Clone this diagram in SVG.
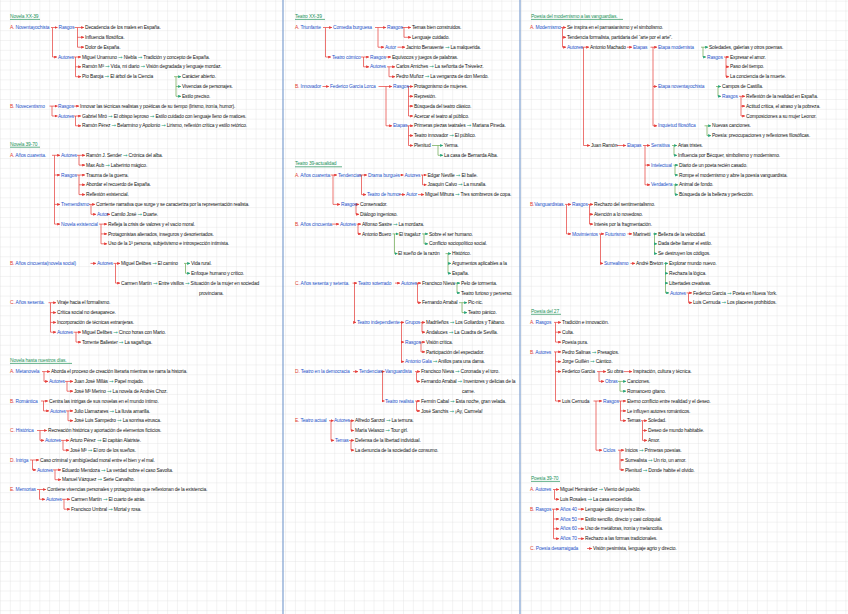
<svg xmlns="http://www.w3.org/2000/svg" width="848" height="614" viewBox="0 0 848 614">
<defs>
<pattern id="gp" x="0" y="0.7" width="9.83" height="9.83" patternUnits="userSpaceOnUse"><path d="M0 0H9.83M0 0V9.83" stroke="#e3e3e3" stroke-width="0.8" fill="none"/></pattern>
<marker id="ar" markerUnits="userSpaceOnUse" markerWidth="3" markerHeight="3" refX="2.8" refY="1.5" orient="auto"><path d="M0,0L3,1.5L0,3z" fill="#e53935"/></marker>
<marker id="ag" markerUnits="userSpaceOnUse" markerWidth="3" markerHeight="3" refX="2.8" refY="1.5" orient="auto"><path d="M0,0L3,1.5L0,3z" fill="#1fa27a"/></marker>
<style>
text{font-family:"Liberation Sans",Arial,sans-serif;font-size:4.9px;fill:#141414;letter-spacing:-.15px}
.b{fill:#2553c9}.r{fill:#e23b2e}.h{fill:#23925a}.g{fill:#1fa27a;font-family:"DejaVu Sans",sans-serif;font-size:5.4px}
.cr{stroke:#e53935;stroke-width:.7;fill:none}
.cg{stroke:#6aa84f;stroke-width:.7;fill:none}
.a{marker-end:url(#ar)}.ag{marker-end:url(#ag)}
.ul{stroke:#23925a;stroke-width:.7}
.sep{stroke:#7d9fd0;stroke-width:1.2}
</style>
</defs>
<rect width="848" height="614" fill="#fff"/>
<rect width="848" height="614" fill="url(#gp)"/>
<line class="sep" x1="283" y1="0" x2="283" y2="614"/>
<line class="sep" x1="520" y1="0" x2="520" y2="614"/>

<g id="connectors">
<path class="cr" d="M51 27.5H52.5V57"/><path class="cr a" d="M52.5 27.5H57.5"/><path class="cr a" d="M52.5 57H57"/>
<path class="cr" d="M74.5 27.5H77.5V47.2"/><path class="cr a" d="M77.5 27.5H84"/><path class="cr a" d="M77.5 37.3H84"/><path class="cr a" d="M77.5 47.2H84"/>
<path class="cr" d="M73.5 57H75.5V76.7"/><path class="cr a" d="M75.5 57H81"/><path class="cr a" d="M75.5 66.8H81"/><path class="cr a" d="M75.5 76.7H81"/>
<path class="cg" d="M174 76.7H176V96.3"/><path class="cg ag" d="M176 76.7H181"/><path class="cg ag" d="M176 86.5H181"/><path class="cg ag" d="M176 96.3H181"/>
<path class="cr" d="M49.5 106.1H52V116"/><path class="cr a" d="M52 106.1H57.5"/><path class="cr a" d="M52 116H57.5"/>
<path class="cr a" d="M73.5 106.1H79"/>
<path class="cr" d="M73.5 116H75.5V125.8"/><path class="cr a" d="M75.5 116H81"/><path class="cr a" d="M75.5 125.8H81"/>
<path class="cr" d="M52 155.3H54.5V224.1"/><path class="cr a" d="M54.5 155.3H60"/><path class="cr a" d="M54.5 175H60"/><path class="cr a" d="M54.5 204.4H60"/><path class="cr a" d="M54.5 224.1H60"/>
<path class="cr" d="M77 155.3H79V165.1"/><path class="cr a" d="M79 155.3H85"/><path class="cr a" d="M79 165.1H85"/>
<path class="cr" d="M76.5 175H79V194.6"/><path class="cr a" d="M79 175H85"/><path class="cr a" d="M79 184.8H85"/><path class="cr a" d="M79 194.6H85"/>
<path class="cr" d="M89 204.4H91V214.3"/><path class="cr a" d="M91 204.4H95"/><path class="cr a" d="M91 214.3H96"/>
<path class="cr a" d="M107.5 214.3H110"/>
<path class="cr" d="M99 224.1H101V243.8"/><path class="cr a" d="M101 224.1H107"/><path class="cr a" d="M101 233.9H107"/><path class="cr a" d="M101 243.8H107"/>
<path class="cr a" d="M90.5 263.4H96"/>
<path class="cr" d="M113.5 263.4H115.5V283.1"/><path class="cr a" d="M115.5 263.4H120"/><path class="cr a" d="M115.5 283.1H120"/>
<path class="cg" d="M184 263.4H185.5V273.3"/><path class="cg ag" d="M185.5 263.4H190"/><path class="cg ag" d="M185.5 273.3H190"/>
<path class="cr" d="M48.5 302.7H50.5V332.2"/><path class="cr a" d="M50.5 302.7H56"/><path class="cr a" d="M50.5 312.6H56"/><path class="cr a" d="M50.5 322.4H56"/><path class="cr a" d="M50.5 332.2H56"/>
<path class="cr" d="M73.5 332.2H76V342.1"/><path class="cr a" d="M76 332.2H81"/><path class="cr a" d="M76 342.1H81"/>
<path class="cr" d="M42 371.6H44V381.4"/><path class="cr a" d="M44 371.6H50"/><path class="cr a" d="M44 381.4H48"/>
<path class="cr" d="M65 381.4H67V391.2"/><path class="cr a" d="M67 381.4H73"/><path class="cr a" d="M67 391.2H73"/>
<path class="cr" d="M41 401H43.5V410.9"/><path class="cr a" d="M43.5 401H48"/><path class="cr a" d="M43.5 410.9H49"/>
<path class="cr" d="M66 410.9H68V420.7"/><path class="cr a" d="M68 410.9H73"/><path class="cr a" d="M68 420.7H73"/>
<path class="cr" d="M37 430.5H40V440.4"/><path class="cr a" d="M40 430.5H47"/><path class="cr a" d="M40 440.4H44"/>
<path class="cr" d="M61 440.4H63V450.2"/><path class="cr a" d="M63 440.4H69"/><path class="cr a" d="M63 450.2H69"/>
<path class="cr" d="M30 460H32.5V469.9"/><path class="cr a" d="M32.5 460H39"/><path class="cr a" d="M32.5 469.9H36"/>
<path class="cr" d="M53 469.9H55V479.7"/><path class="cr a" d="M55 469.9H61"/><path class="cr a" d="M55 479.7H61"/>
<path class="cr" d="M37 489.5H39.5V499.3"/><path class="cr a" d="M39.5 489.5H46"/><path class="cr a" d="M39.5 499.3H45"/>
<path class="cr" d="M62 499.3H64V509.2"/><path class="cr a" d="M64 499.3H70"/><path class="cr a" d="M64 509.2H70"/>
<path class="cr" d="M323 27.5H325.5V57"/><path class="cr a" d="M325.5 27.5H332"/><path class="cr a" d="M325.5 57H331"/>
<path class="cr" d="M375 27.5H378V47.2"/><path class="cr a" d="M378 27.5H386"/><path class="cr a" d="M378 47.2H384"/>
<path class="cr" d="M402 27.5H404V37.3"/><path class="cr a" d="M404 27.5H411"/><path class="cr a" d="M404 37.3H411"/>
<path class="cr a" d="M397.5 47.2H405"/>
<path class="cr" d="M361 57H363.5V66.8"/><path class="cr a" d="M363.5 57H369"/><path class="cr a" d="M363.5 66.8H369"/>
<path class="cr a" d="M385.5 57H391"/>
<path class="cr" d="M387 66.8H389V76.7"/><path class="cr a" d="M389 66.8H395"/><path class="cr a" d="M389 76.7H395"/>
<path class="cr a" d="M322.5 86.5H329"/>
<path class="cr" d="M378.5 86.5H386V125.8"/><path class="cr a" d="M386 86.5H392"/><path class="cr a" d="M386 125.8H392"/>
<path class="cr" d="M407 86.5H408.5V116"/><path class="cr a" d="M408.5 86.5H413"/><path class="cr a" d="M408.5 96.3H413"/><path class="cr a" d="M408.5 106.1H413"/><path class="cr a" d="M408.5 116H413"/>
<path class="cr" d="M407 125.8H408.5V145.5"/><path class="cr a" d="M408.5 125.8H413"/><path class="cr a" d="M408.5 135.6H413"/><path class="cr a" d="M408.5 145.5H413"/>
<path class="cg" d="M432 145.5H438V155.3"/><path class="cg ag" d="M438 145.5H443"/><path class="cg ag" d="M438 155.3H443"/>
<path class="cr" d="M330.5 175H333V204.4"/><path class="cr a" d="M333 175H337"/><path class="cr a" d="M333 204.4H340"/>
<path class="cr" d="M359 175H361.5V194.6"/><path class="cr a" d="M361.5 175H367"/><path class="cr a" d="M361.5 194.6H366"/>
<path class="cr a" d="M400 175H403.5"/>
<path class="cr" d="M421 175H422.5V184.8"/><path class="cr a" d="M422.5 175H426.5"/><path class="cr a" d="M422.5 184.8H426.5"/>
<path class="cr a" d="M399 194.6H405"/>
<path class="cr a" d="M418 194.6H424"/>
<path class="cr" d="M354 204.4H356V214.3"/><path class="cr a" d="M356 204.4H359"/><path class="cr a" d="M356 214.3H359"/>
<path class="cr a" d="M331.5 224.1H339"/>
<path class="cr" d="M356.5 224.1H358V233.9"/><path class="cr a" d="M358 224.1H361"/><path class="cr a" d="M358 233.9H361"/>
<path class="cg" d="M392.5 233.9H394.5V253.6"/><path class="cg ag" d="M394.5 233.9H398.5"/><path class="cg ag" d="M394.5 253.6H397.5"/>
<path class="cg" d="M422 233.9H424V243.8"/><path class="cg ag" d="M424 233.9H428"/><path class="cg ag" d="M424 243.8H428"/>
<path class="cg" d="M445.5 253.6H448V273.3"/><path class="cg ag" d="M448 253.6H451"/><path class="cg ag" d="M448 263.4H451"/><path class="cg ag" d="M448 273.3H451"/>
<path class="cr" d="M352.5 283.1H354.5V322.4"/><path class="cr a" d="M354.5 283.1H357"/><path class="cr a" d="M354.5 322.4H356"/>
<path class="cr a" d="M395 283.1H400"/>
<path class="cr" d="M416 283.1H417.5V302.7"/><path class="cr a" d="M417.5 283.1H421"/><path class="cr a" d="M417.5 302.7H421"/>
<path class="cg" d="M455 283.1H457V292.9"/><path class="cg ag" d="M457 283.1H460"/><path class="cg ag" d="M457 292.9H460"/>
<path class="cg" d="M459 302.7H462V312.6"/><path class="cg ag" d="M462 302.7H467"/><path class="cg ag" d="M462 312.6H467"/>
<path class="cr" d="M400 322.4H401.5V361.7"/><path class="cr a" d="M401.5 322.4H404"/><path class="cr a" d="M401.5 342.1H404"/><path class="cr a" d="M401.5 361.7H404"/>
<path class="cr" d="M420.5 322.4H422V332.2"/><path class="cr a" d="M422 322.4H425"/><path class="cr a" d="M422 332.2H425"/>
<path class="cr" d="M419.5 342.1H421V351.9"/><path class="cr a" d="M421 342.1H425"/><path class="cr a" d="M421 351.9H425"/>
<path class="cr a" d="M353 371.6H358"/>
<path class="cr" d="M381 371.6H382.5V401"/><path class="cr a" d="M382.5 371.6H384.5"/><path class="cr a" d="M382.5 401H384.5"/>
<path class="cr" d="M415 371.6H416.5V381.4"/><path class="cr a" d="M416.5 371.6H420"/><path class="cr a" d="M416.5 381.4H420"/>
<path class="cr" d="M415 401H416.5V410.9"/><path class="cr a" d="M416.5 401H420"/><path class="cr a" d="M416.5 410.9H420"/>
<path class="cr" d="M329 420.7H331V440.4"/><path class="cr a" d="M331 420.7H333.5"/><path class="cr a" d="M331 440.4H334"/>
<path class="cr" d="M349.5 420.7H351V430.5"/><path class="cr a" d="M351 420.7H354"/><path class="cr a" d="M351 430.5H354"/>
<path class="cr" d="M349 440.4H351V450.2"/><path class="cr a" d="M351 440.4H354"/><path class="cr a" d="M351 450.2H354"/>
<path class="cr" d="M561 27.5H562.5V47.2"/><path class="cr a" d="M562.5 27.5H566"/><path class="cr a" d="M562.5 37.3H566"/><path class="cr a" d="M562.5 47.2H566"/>
<path class="cr" d="M581.5 47.2H583.5V145.5"/><path class="cr a" d="M583.5 47.2H589"/><path class="cr a" d="M583.5 145.5H590"/>
<path class="cr a" d="M627 47.2H632"/>
<path class="cr" d="M650.5 47.2H653V125.8"/><path class="cr a" d="M653 47.2H657"/><path class="cr a" d="M653 86.5H657"/><path class="cr a" d="M653 125.8H657"/>
<path class="cg" d="M701 47.2H703V57"/><path class="cg ag" d="M703 47.2H708"/><path class="cg ag" d="M703 57H706"/>
<path class="cr" d="M724 57H726V76.7"/><path class="cr a" d="M726 57H729"/><path class="cr a" d="M726 66.8H729"/><path class="cr a" d="M726 76.7H729"/>
<path class="cg" d="M716 86.5H718V96.3"/><path class="cg ag" d="M718 86.5H721"/><path class="cg ag" d="M718 96.3H721"/>
<path class="cr" d="M739 96.3H741V116"/><path class="cr a" d="M741 96.3H745"/><path class="cr a" d="M741 106.1H745"/><path class="cr a" d="M741 116H745"/>
<path class="cg" d="M704.5 125.8H707V135.6"/><path class="cg ag" d="M707 125.8H711"/><path class="cg ag" d="M707 135.6H711"/>
<path class="cr a" d="M616.5 145.5H626"/>
<path class="cr" d="M643 145.5H645V184.8"/><path class="cr a" d="M645 145.5H650"/><path class="cr a" d="M645 165.1H650"/><path class="cr a" d="M645 184.8H650"/>
<path class="cg" d="M672 145.5H674V155.3"/><path class="cg ag" d="M674 145.5H677"/><path class="cg ag" d="M674 155.3H677"/>
<path class="cg" d="M673.5 165.1H675V175"/><path class="cg ag" d="M675 165.1H678"/><path class="cg ag" d="M675 175H678"/>
<path class="cg" d="M673.5 184.8H675V194.6"/><path class="cg ag" d="M675 184.8H678"/><path class="cg ag" d="M675 194.6H678"/>
<path class="cr" d="M565 204.4H566.5V233.9"/><path class="cr a" d="M566.5 204.4H571"/><path class="cr a" d="M566.5 233.9H571"/>
<path class="cr" d="M588 204.4H589.5V224.1"/><path class="cr a" d="M589.5 204.4H593"/><path class="cr a" d="M589.5 214.3H593"/><path class="cr a" d="M589.5 224.1H593"/>
<path class="cr" d="M599 233.9H600.5V263.4"/><path class="cr a" d="M600.5 233.9H604"/><path class="cr a" d="M600.5 263.4H603"/>
<path class="cr a" d="M627.5 233.9H632"/>
<path class="cg" d="M653 233.9H654.5V253.6"/><path class="cg ag" d="M654.5 233.9H657"/><path class="cg ag" d="M654.5 243.8H657"/><path class="cg ag" d="M654.5 253.6H657"/>
<path class="cr a" d="M630.5 263.4H635"/>
<path class="cg" d="M664 263.4H665.5V292.9"/><path class="cg ag" d="M665.5 263.4H668"/><path class="cg ag" d="M665.5 273.3H668"/><path class="cg ag" d="M665.5 283.1H668"/><path class="cg ag" d="M665.5 292.9H669"/>
<path class="cr" d="M686.5 292.9H688.5V302.7"/><path class="cr a" d="M688.5 292.9H692"/><path class="cr a" d="M688.5 302.7H692"/>
<path class="cr" d="M554 322.4H555.5V342.1"/><path class="cr a" d="M555.5 322.4H561"/><path class="cr a" d="M555.5 332.2H561"/><path class="cr a" d="M555.5 342.1H561"/>
<path class="cr" d="M554 351.9H555.5V401"/><path class="cr a" d="M555.5 351.9H561"/><path class="cr a" d="M555.5 361.7H561"/><path class="cr a" d="M555.5 371.6H561"/><path class="cr a" d="M555.5 401H561"/>
<path class="cr" d="M597 371.6H599V381.4"/><path class="cr a" d="M599 371.6H606"/><path class="cr a" d="M599 381.4H604"/>
<path class="cr a" d="M623.5 371.6H632"/>
<path class="cg" d="M618 381.4H620V391.2"/><path class="cg ag" d="M620 381.4H626"/><path class="cg ag" d="M620 391.2H626"/>
<path class="cr" d="M593.5 401H596V450.2"/><path class="cr a" d="M596 401H602"/><path class="cr a" d="M596 450.2H602"/>
<path class="cr" d="M618.5 401H620.5V420.7"/><path class="cr a" d="M620.5 401H626"/><path class="cr a" d="M620.5 410.9H626"/><path class="cr a" d="M620.5 420.7H626"/>
<path class="cr" d="M641 420.7H642.5V440.4"/><path class="cr a" d="M642.5 420.7H647"/><path class="cr a" d="M642.5 430.5H647"/><path class="cr a" d="M642.5 440.4H647"/>
<path class="cr" d="M618 450.2H620V469.9"/><path class="cr a" d="M620 450.2H624"/><path class="cr a" d="M620 460H624"/><path class="cr a" d="M620 469.9H624"/>
<path class="cr" d="M553 489.5H554.5V499.3"/><path class="cr a" d="M554.5 489.5H559"/><path class="cr a" d="M554.5 499.3H559"/>
<path class="cr" d="M552 509.2H553.5V538.7"/><path class="cr a" d="M553.5 509.2H559"/><path class="cr a" d="M553.5 519H559"/><path class="cr a" d="M553.5 528.8H559"/><path class="cr a" d="M553.5 538.7H559"/>
<path class="cr a" d="M578 509.2H584"/><path class="cr a" d="M578 519H584"/><path class="cr a" d="M578 528.8H584"/><path class="cr a" d="M578 538.7H584"/>
<path class="cr a" d="M587 548.5H592"/>
</g>

<g id="t-novela-xx-39"><text class="h" x="10" y="17.8">Novela XX-39</text><line class="ul" x1="10" y1="19.4" x2="40" y2="19.4"/></g>
<g id="a1"><text x="10" y="29.1"><tspan class="r">A. </tspan><tspan class="b">Noventayochista</tspan></text></g>
<g id="a2"><text class="b" x="58.5" y="29.1">Rasgos</text></g>
<g id="a3"><text x="85" y="29.1">Decadencia de los males en España.</text></g>
<g id="a4"><text x="85" y="38.9">Influencia filosófica.</text></g>
<g id="a5"><text x="85" y="48.8">Dolor de España.</text></g>
<g id="a6"><text class="b" x="58" y="58.6">Autores</text></g>
<g id="a7"><text x="82" y="58.6">Miguel Unamuno <tspan class="g">→</tspan> Niebla <tspan class="g">→</tspan> Tradición y concepto de España.</text></g>
<g id="a8"><text x="82" y="68.4">Ramón Mª <tspan class="g">→</tspan> Vida, mi diario <tspan class="g">→</tspan> Visión degradada y lenguaje mordaz.</text></g>
<g id="a9"><text x="82" y="78.3">Pío Baroja <tspan class="g">→</tspan> El árbol de la Ciencia</text></g>
<g id="a10"><text x="182" y="78.3">Carácter abierto.</text></g>
<g id="a11"><text x="182" y="88.1">Vivencias de personajes.</text></g>
<g id="a12"><text x="182" y="97.9">Estilo preciso.</text></g>
<g id="a13"><text x="10" y="107.7"><tspan class="r">B. </tspan><tspan class="b">Novecentismo</tspan></text></g>
<g id="a14"><text class="b" x="58" y="107.7">Rasgos</text></g>
<g id="a15"><text x="80" y="107.7">Innovar las técnicas realistas y poéticas de su tiempo (lirismo, ironía, humor).</text></g>
<g id="a16"><text class="b" x="58" y="117.6">Autores</text></g>
<g id="a17"><text x="82" y="117.6">Gabriel Miró <tspan class="g">→</tspan> El obispo leproso <tspan class="g">→</tspan> Estilo cuidado con lenguaje lleno de matices.</text></g>
<g id="a18"><text x="82" y="127.4">Ramón Pérez <tspan class="g">→</tspan> Belarmino y Apolonio <tspan class="g">→</tspan> Lirismo, reflexión crítica y estilo retórico.</text></g>

<g id="t-novela-39-70"><text class="h" x="10" y="145.6">Novela 39-70</text><line class="ul" x1="10" y1="147.2" x2="40" y2="147.2"/></g>
<g id="a19"><text x="10" y="156.9"><tspan class="r">A. </tspan><tspan class="b">Años cuarenta.</tspan></text></g>
<g id="a20"><text class="b" x="61" y="156.9">Autores</text></g>
<g id="a21"><text x="86" y="156.9">Ramón J. Sender <tspan class="g">→</tspan> Crónica del alba.</text></g>
<g id="a22"><text x="86" y="166.7">Max Aub <tspan class="g">→</tspan> Laberinto mágico.</text></g>
<g id="a23"><text class="b" x="61" y="176.6">Rasgos</text></g>
<g id="a24"><text x="86" y="176.6">Trauma de la guerra.</text></g>
<g id="a25"><text x="86" y="186.4">Abordar el recuerdo de España.</text></g>
<g id="a26"><text x="86" y="196.2">Reflexión existencial.</text></g>
<g id="a27"><text class="b" x="61" y="206">Tremendismo</text></g>
<g id="a28"><text x="96" y="206">Corriente narrativa que surge y se caracteriza por la representación realista.</text></g>
<g id="a29"><text class="b" x="97" y="215.9">Autor</text></g>
<g id="a30"><text x="111" y="215.9">Camilo José <tspan class="g">→</tspan> Duarte.</text></g>
<g id="a31"><text class="b" x="61" y="225.7">Novela existencial</text></g>
<g id="a32"><text x="108" y="225.7">Refleja la crisis de valores y el vacío moral.</text></g>
<g id="a33"><text x="108" y="235.5">Protagonistas alienados, inseguros y desorientados.</text></g>
<g id="a34"><text x="108" y="245.4">Uso de la 1ª persona, subjetivismo e introspección intimista.</text></g>
<g id="a35"><text x="10" y="265"><tspan class="r">B. </tspan><tspan class="b">Años cincuenta(novela social)</tspan></text></g>
<g id="a36"><text class="b" x="97" y="265">Autores</text></g>
<g id="a37"><text x="121" y="265">Miguel Delibes <tspan class="g">→</tspan> El camino</text></g>
<g id="a38"><text x="191" y="265">Vida rural.</text></g>
<g id="a39"><text x="191" y="274.9">Enfoque humano y crítico.</text></g>
<g id="a40"><text x="121" y="284.7">Carmen Martín <tspan class="g">→</tspan> Entre visillos <tspan class="g">→</tspan> Situación de la mujer en sociedad</text></g>
<g id="a41"><text x="199" y="294.5">provinciana.</text></g>
<g id="a42"><text x="10" y="304.3"><tspan class="r">C. </tspan><tspan class="b">Años sesenta.</tspan></text></g>
<g id="a43"><text x="57" y="304.3">Viraje hacia el formalismo.</text></g>
<g id="a44"><text x="57" y="314.2">Crítica social no desaparece.</text></g>
<g id="a45"><text x="57" y="324">Incorporación de técnicas extranjeras.</text></g>
<g id="a46"><text class="b" x="57" y="333.8">Autores</text></g>
<g id="a47"><text x="82" y="333.8">Miguel Delibes <tspan class="g">→</tspan> Cinco horas con Mario.</text></g>
<g id="a48"><text x="82" y="343.7">Torrente Ballester <tspan class="g">→</tspan> La saga/fuga.</text></g>

<g id="t-novela-hasta"><text class="h" x="10" y="361.8">Novela hasta nuestros días.</text><line class="ul" x1="10" y1="363.4" x2="72" y2="363.4"/></g>
<g id="a49"><text x="10" y="373.2"><tspan class="r">A. </tspan><tspan class="b">Metanovela</tspan></text></g>
<g id="a50"><text x="51" y="373.2">Aborda el proceso de creación literaria mientras se narra la historia.</text></g>
<g id="a51"><text class="b" x="49" y="383">Autores</text></g>
<g id="a52"><text x="74" y="383">Juan José Millás <tspan class="g">→</tspan> Papel mojado.</text></g>
<g id="a53"><text x="74" y="392.8">José Mª Merino <tspan class="g">→</tspan> La novela de Andrés Choz.</text></g>
<g id="a54"><text x="10" y="402.6"><tspan class="r">B. </tspan><tspan class="b">Romántica</tspan></text></g>
<g id="a55"><text x="49" y="402.6">Centra las intrigas de sus novelas en el mundo íntimo.</text></g>
<g id="a56"><text class="b" x="50" y="412.5">Autores</text></g>
<g id="a57"><text x="74" y="412.5">Julio Llamazares <tspan class="g">→</tspan> La lluvia amarilla.</text></g>
<g id="a58"><text x="74" y="422.3">José Luis Sampedro <tspan class="g">→</tspan> La sonrisa etrusca.</text></g>
<g id="a59"><text x="10" y="432.1"><tspan class="r">C. </tspan><tspan class="b">Histórica</tspan></text></g>
<g id="a60"><text x="48" y="432.1">Recreación histórica y aportación de elementos ficticios.</text></g>
<g id="a61"><text class="b" x="45" y="442">Autores</text></g>
<g id="a62"><text x="70" y="442">Arturo Pérez <tspan class="g">→</tspan> El capitán Alatriste.</text></g>
<g id="a63"><text x="70" y="451.8">José Mª <tspan class="g">→</tspan> El oro de los sueños.</text></g>
<g id="a64"><text x="10" y="461.6"><tspan class="r">D. </tspan><tspan class="b">Intriga</tspan></text></g>
<g id="a65"><text x="40" y="461.6">Caso criminal y ambigüedad moral entre el bien y el mal.</text></g>
<g id="a66"><text class="b" x="37" y="471.5">Autores</text></g>
<g id="a67"><text x="62" y="471.5">Eduardo Mendoza <tspan class="g">→</tspan> La verdad sobre el caso Savolta.</text></g>
<g id="a68"><text x="62" y="481.3">Manuel Vázquez <tspan class="g">→</tspan> Serie Carvalho.</text></g>
<g id="a69"><text x="10" y="491.1"><tspan class="r">E. </tspan><tspan class="b">Memorias</tspan></text></g>
<g id="a70"><text x="47" y="491.1">Contiene vivencias personales y protagonistas que reflexionan de la existencia.</text></g>
<g id="a71"><text class="b" x="46" y="500.9">Autores</text></g>
<g id="a72"><text x="71" y="500.9">Carmen Martín <tspan class="g">→</tspan> El cuarto de atrás.</text></g>
<g id="a73"><text x="71" y="510.8">Francisco Umbral <tspan class="g">→</tspan> Mortal y rosa.</text></g>

<g id="t-teatro-xx-39"><text class="h" x="295" y="17.8">Teatro XX-39</text><line class="ul" x1="295" y1="19.4" x2="325" y2="19.4"/></g>
<g id="b1"><text x="295" y="29.1"><tspan class="r">A. </tspan><tspan class="b">Triunfante</tspan></text></g>
<g id="b2"><text class="b" x="333" y="29.1">Comedia burguesa</text></g>
<g id="b3"><text class="b" x="387" y="29.1">Rasgos</text></g>
<g id="b4"><text x="412" y="29.1">Temas bien construidos.</text></g>
<g id="b5"><text x="412" y="38.9">Lenguaje cuidado.</text></g>
<g id="b6"><text class="b" x="385" y="48.8">Autor</text></g>
<g id="b7"><text x="406" y="48.8">Jacinto Benavente <tspan class="g">→</tspan> La malquerida.</text></g>
<g id="b8"><text class="b" x="332" y="58.6">Teatro cómico</text></g>
<g id="b9"><text class="b" x="370" y="58.6">Rasgos</text></g>
<g id="b10"><text x="392" y="58.6">Equívocos y juegos de palabras.</text></g>
<g id="b11"><text class="b" x="370" y="68.4">Autores</text></g>
<g id="b12"><text x="396" y="68.4">Carlos Arniches <tspan class="g">→</tspan> La señorita de Trévelez.</text></g>
<g id="b13"><text x="396" y="78.3">Pedro Muñoz <tspan class="g">→</tspan> La venganza de don Mendo.</text></g>
<g id="b14"><text x="295" y="88.1"><tspan class="r">B. </tspan><tspan class="b">Innovador</tspan></text></g>
<g id="b15"><text class="b" x="330" y="88.1">Federico García Lorca</text></g>
<g id="b16"><text class="b" x="393" y="88.1">Rasgos</text></g>
<g id="b17"><text x="414" y="88.1">Protagonismo de mujeres.</text></g>
<g id="b18"><text x="414" y="97.9">Represión.</text></g>
<g id="b19"><text x="414" y="107.7">Búsqueda del teatro clásico.</text></g>
<g id="b20"><text x="414" y="117.6">Acercar el teatro al público.</text></g>
<g id="b21"><text class="b" x="393" y="127.4">Etapas</text></g>
<g id="b22"><text x="414" y="127.4">Primeras piezas teatrales <tspan class="g">→</tspan> Mariana Pineda.</text></g>
<g id="b23"><text x="414" y="137.2">Teatro innovador <tspan class="g">→</tspan> El público.</text></g>
<g id="b24"><text x="414" y="147.1">Plenitud</text></g>
<g id="b25"><text x="444" y="147.1">Yerma.</text></g>
<g id="b26"><text x="444" y="156.9">La casa de Bernarda Alba.</text></g>

<g id="t-teatro-39"><text class="h" x="295" y="165.2">Teatro 39-actualidad</text><line class="ul" x1="295" y1="166.8" x2="342" y2="166.8"/></g>
<g id="b27"><text x="295" y="176.6"><tspan class="r">A. </tspan><tspan class="b">Años cuarenta.</tspan></text></g>
<g id="b28"><text class="b" x="338" y="176.6">Tendencias</text></g>
<g id="b29"><text class="b" x="368" y="176.6">Drama burgués</text></g>
<g id="b30"><text class="b" x="404.5" y="176.6">Autores</text></g>
<g id="b31"><text x="427.5" y="176.6">Edgar Neville <tspan class="g">→</tspan> El baile.</text></g>
<g id="b32"><text x="427.5" y="186.4">Joaquín Calvo <tspan class="g">→</tspan> La muralla.</text></g>
<g id="b33"><text class="b" x="367" y="196.2">Teatro de humor</text></g>
<g id="b34"><text class="b" x="406" y="196.2">Autor</text></g>
<g id="b35"><text x="425" y="196.2">Miguel Mihura <tspan class="g">→</tspan> Tres sombreros de copa.</text></g>
<g id="b36"><text class="b" x="341" y="206">Rasgos</text></g>
<g id="b37"><text x="360" y="206">Conservador.</text></g>
<g id="b38"><text x="360" y="215.9">Diálogo ingenioso.</text></g>
<g id="b39"><text x="295" y="225.7"><tspan class="r">B. </tspan><tspan class="b">Años cincuenta.</tspan></text></g>
<g id="b40"><text class="b" x="340" y="225.7">Autores</text></g>
<g id="b41"><text x="362" y="225.7">Alfonso Sastre <tspan class="g">→</tspan> La mordaza.</text></g>
<g id="b42"><text x="362" y="235.5">Antonio Buero</text></g>
<g id="b43"><text x="399" y="235.5">El tragaluz</text></g>
<g id="b44"><text x="429" y="235.5">Sobre el ser humano.</text></g>
<g id="b45"><text x="429" y="245.4">Conflicto sociopolítico social.</text></g>
<g id="b46"><text x="398" y="255.2">El sueño de la razón</text></g>
<g id="b47"><text x="452" y="255.2">Histórico.</text></g>
<g id="b48"><text x="452" y="265">Argumentos aplicables a la</text></g>
<g id="b49"><text x="452" y="274.9">España.</text></g>
<g id="b50"><text x="295" y="284.7"><tspan class="r">C. </tspan><tspan class="b">Años sesenta y setenta.</tspan></text></g>
<g id="b51"><text class="b" x="358" y="284.7">Teatro soterrado</text></g>
<g id="b52"><text class="b" x="401" y="284.7">Autores</text></g>
<g id="b53"><text x="422" y="284.7">Francisco Nieva</text></g>
<g id="b54"><text x="461" y="284.7">Pelo de tormenta.</text></g>
<g id="b55"><text x="461" y="294.5">Teatro furioso y perverso.</text></g>
<g id="b56"><text x="422" y="304.3">Fernando Arrabal</text></g>
<g id="b57"><text x="468" y="304.3">Pic-nic.</text></g>
<g id="b58"><text x="468" y="314.2">Teatro pánico.</text></g>
<g id="b59"><text class="b" x="357" y="324">Teatro independiente</text></g>
<g id="b60"><text class="b" x="405" y="324">Grupos</text></g>
<g id="b61"><text x="426" y="324">Madrileños <tspan class="g">→</tspan> Los Goliardos y Tábano.</text></g>
<g id="b62"><text x="426" y="333.8">Andaluces <tspan class="g">→</tspan> La Cuadra de Sevilla.</text></g>
<g id="b63"><text class="b" x="405" y="343.7">Rasgos</text></g>
<g id="b64"><text x="426" y="343.7">Visión crítica.</text></g>
<g id="b65"><text x="426" y="353.5">Participación del espectador.</text></g>
<g id="b66"><text x="405" y="363.3"><tspan class="b">Antonio Gala</tspan> <tspan class="g">→</tspan> Anillos para una dama.</text></g>
<g id="b67"><text x="295" y="373.2"><tspan class="r">D. </tspan><tspan class="b">Teatro en la democracia</tspan></text></g>
<g id="b68"><text class="b" x="359" y="373.2">Tendencias</text></g>
<g id="b69"><text class="b" x="385" y="373.2">Vanguardista</text></g>
<g id="b70"><text x="421" y="373.2">Francisco Nieva <tspan class="g">→</tspan> Coronada y el toro.</text></g>
<g id="b71"><text x="421" y="383">Fernando Arrabal <tspan class="g">→</tspan> Inventores y delicias de la</text></g>
<g id="b72"><text x="462" y="392.8">carne.</text></g>
<g id="b73"><text class="b" x="385" y="402.6">Teatro realista</text></g>
<g id="b74"><text x="421" y="402.6">Fermín Cabal <tspan class="g">→</tspan> Esta noche, gran velada.</text></g>
<g id="b75"><text x="421" y="412.5">José Sanchis <tspan class="g">→</tspan> ¡Ay, Carmela!</text></g>
<g id="b76"><text x="295" y="422.3"><tspan class="r">E. </tspan><tspan class="b">Teatro actual</tspan></text></g>
<g id="b77"><text class="b" x="334" y="422.3">Autores</text></g>
<g id="b78"><text x="355" y="422.3">Alfredo Sanzol <tspan class="g">→</tspan> La ternura.</text></g>
<g id="b79"><text x="355" y="432.1">María Velasco <tspan class="g">→</tspan> Tour girl.</text></g>
<g id="b80"><text class="b" x="335" y="442">Temas</text></g>
<g id="b81"><text x="355" y="442">Defensa de la libertad individual.</text></g>
<g id="b82"><text x="355" y="451.8">La denuncia de la sociedad de consumo.</text></g>

<g id="t-poesia-mod"><text class="h" x="531" y="17.8">Poesía del modernismo a las vanguardias.</text><line class="ul" x1="531" y1="19.4" x2="623" y2="19.4"/></g>
<g id="c1"><text x="530" y="29.1"><tspan class="r">A. </tspan><tspan class="b">Modernismo</tspan></text></g>
<g id="c2"><text x="567" y="29.1">Se inspira en el parnasianismo y el simbolismo.</text></g>
<g id="c3"><text x="567" y="38.9">Tendencia formalista, partidaria del “arte por el arte”.</text></g>
<g id="c4"><text class="b" x="567" y="48.8">Autores</text></g>
<g id="c5"><text x="590" y="48.8">Antonio Machado</text></g>
<g id="c6"><text class="b" x="633" y="48.8">Etapas</text></g>
<g id="c7"><text class="b" x="658" y="48.8">Etapa modernista</text></g>
<g id="c8"><text x="709" y="48.8">Soledades, galerías y otros poemas.</text></g>
<g id="c9"><text class="b" x="707" y="58.6">Rasgos</text></g>
<g id="c10"><text x="730" y="58.6">Expresar el amor.</text></g>
<g id="c11"><text x="730" y="68.4">Paso del tiempo.</text></g>
<g id="c12"><text x="730" y="78.3">La conciencia de la muerte.</text></g>
<g id="c13"><text class="b" x="658" y="88.1">Etapa noventayochista</text></g>
<g id="c14"><text x="722" y="88.1">Campos de Castilla.</text></g>
<g id="c15"><text class="b" x="722" y="97.9">Rasgos</text></g>
<g id="c16"><text x="746" y="97.9">Reflexión de la realidad en España.</text></g>
<g id="c17"><text x="746" y="107.7">Actitud crítica, el atraso y la pobreza.</text></g>
<g id="c18"><text x="746" y="117.6">Composiciones a su mujer Leonor.</text></g>
<g id="c19"><text class="b" x="658" y="127.4">Inquietud filosófica</text></g>
<g id="c20"><text x="712" y="127.4">Nuevas canciones.</text></g>
<g id="c21"><text x="712" y="137.2">Poesía: preocupaciones y reflexiones filosóficas.</text></g>
<g id="c22"><text x="591" y="147.1">Juan Ramón</text></g>
<g id="c23"><text class="b" x="627" y="147.1">Etapas</text></g>
<g id="c24"><text class="b" x="651" y="147.1">Sensitiva</text></g>
<g id="c25"><text x="678" y="147.1">Arias tristes.</text></g>
<g id="c26"><text x="678" y="156.9">Influencia por Bécquer, simbolismo y modernismo.</text></g>
<g id="c27"><text class="b" x="651" y="166.7">Intelectual</text></g>
<g id="c28"><text x="679" y="166.7">Diario de un poeta recién casado.</text></g>
<g id="c29"><text x="679" y="176.6">Rompe el modernismo y abre la poesía vanguardista.</text></g>
<g id="c30"><text class="b" x="651" y="186.4">Verdadera</text></g>
<g id="c31"><text x="679" y="186.4">Animal de fondo.</text></g>
<g id="c32"><text x="679" y="196.2">Búsqueda de la belleza y perfección.</text></g>
<g id="c33"><text x="530" y="206"><tspan class="r">B.</tspan><tspan class="b">Vanguardistas.</tspan></text></g>
<g id="c34"><text class="b" x="572" y="206">Rasgos</text></g>
<g id="c35"><text x="594" y="206">Rechazo del sentimentalismo.</text></g>
<g id="c36"><text x="594" y="215.9">Atención a lo novedoso.</text></g>
<g id="c37"><text x="594" y="225.7">Interés por la fragmentación.</text></g>
<g id="c38"><text class="b" x="572" y="235.5">Movimientos</text></g>
<g id="c39"><text class="b" x="605" y="235.5">Futurismo</text></g>
<g id="c40"><text x="633" y="235.5">Marinetti</text></g>
<g id="c41"><text x="658" y="235.5">Belleza de la velocidad.</text></g>
<g id="c42"><text x="658" y="245.4">Dada debe llamar el estilo.</text></g>
<g id="c43"><text x="658" y="255.2">Se destruyen los códigos.</text></g>
<g id="c44"><text class="b" x="604" y="265">Surrealismo</text></g>
<g id="c45"><text x="636" y="265">André Breton</text></g>
<g id="c46"><text x="669" y="265">Explorar mundo nuevo.</text></g>
<g id="c47"><text x="669" y="274.9">Rechaza la lógica.</text></g>
<g id="c48"><text x="669" y="284.7">Libertades creativas.</text></g>
<g id="c49"><text class="b" x="670" y="294.5">Autores</text></g>
<g id="c50"><text x="693" y="294.5">Federico García <tspan class="g">→</tspan> Poeta en Nueva York.</text></g>
<g id="c51"><text x="693" y="304.3">Luis Cernuda <tspan class="g">→</tspan> Los placeres prohibidos.</text></g>

<g id="t-poesia-27"><text class="h" x="531" y="312.7">Poesía del 27</text><line class="ul" x1="531" y1="314.3" x2="561" y2="314.3"/></g>
<g id="c52"><text x="530" y="324"><tspan class="r">A. </tspan><tspan class="b">Rasgos</tspan></text></g>
<g id="c53"><text x="562" y="324">Tradición e innovación.</text></g>
<g id="c54"><text x="562" y="333.8">Culta.</text></g>
<g id="c55"><text x="562" y="343.7">Poesía pura.</text></g>
<g id="c56"><text x="530" y="353.5"><tspan class="r">B. </tspan><tspan class="b">Autores</tspan></text></g>
<g id="c57"><text x="562" y="353.5">Pedro Salinas <tspan class="g">→</tspan> Presagios.</text></g>
<g id="c58"><text x="562" y="363.3">Jorge Guillén <tspan class="g">→</tspan> Cántico.</text></g>
<g id="c59"><text x="562" y="373.2">Federico García</text></g>
<g id="c60"><text x="607" y="373.2">Su obra</text></g>
<g id="c61"><text x="633" y="373.2">Inspiración, cultura y técnica.</text></g>
<g id="c62"><text class="b" x="605" y="383">Obras</text></g>
<g id="c63"><text x="627" y="383">Canciones.</text></g>
<g id="c64"><text x="627" y="392.8">Romancero gitano.</text></g>
<g id="c65"><text x="562" y="402.6">Luis Cernuda</text></g>
<g id="c66"><text class="b" x="603" y="402.6">Rasgos</text></g>
<g id="c67"><text x="627" y="402.6">Eterno conflicto entre realidad y el deseo.</text></g>
<g id="c68"><text x="627" y="412.5">Le influyen autores románticos.</text></g>
<g id="c69"><text x="627" y="422.3">Temas</text></g>
<g id="c70"><text x="648" y="422.3">Soledad.</text></g>
<g id="c71"><text x="648" y="432.1">Deseo de mundo habitable.</text></g>
<g id="c72"><text x="648" y="442">Amor.</text></g>
<g id="c73"><text class="b" x="603" y="451.8">Ciclos</text></g>
<g id="c74"><text x="625" y="451.8">Inicios <tspan class="g">→</tspan> Primeras poesías.</text></g>
<g id="c75"><text x="625" y="461.6">Surrealista <tspan class="g">→</tspan> Un río, un amor.</text></g>
<g id="c76"><text x="625" y="471.5">Plenitud <tspan class="g">→</tspan> Donde habite el olvido.</text></g>

<g id="t-poesia-39-70"><text class="h" x="531" y="479.8">Poesía 39-70</text><line class="ul" x1="531" y1="481.4" x2="560" y2="481.4"/></g>
<g id="c77"><text x="530" y="491.1"><tspan class="r">A. </tspan><tspan class="b">Autores</tspan></text></g>
<g id="c78"><text x="560" y="491.1">Miguel Hernández <tspan class="g">→</tspan> Viento del pueblo.</text></g>
<g id="c79"><text x="560" y="500.9">Luis Rosales <tspan class="g">→</tspan> La casa encendida.</text></g>
<g id="c80"><text x="530" y="510.8"><tspan class="r">B. </tspan><tspan class="b">Rasgos</tspan></text></g>
<g id="c81"><text class="b" x="560" y="510.8">Años 40</text></g>
<g id="c82"><text x="585" y="510.8">Lenguaje clásico y verso libre.</text></g>
<g id="c83"><text class="b" x="560" y="520.6">Años 50</text></g>
<g id="c84"><text x="585" y="520.6">Estilo sencillo, directo y casi coloquial.</text></g>
<g id="c85"><text class="b" x="560" y="530.4">Años 60</text></g>
<g id="c86"><text x="585" y="530.4">Uso de metáforas, ironía y melancolía.</text></g>
<g id="c87"><text class="b" x="560" y="540.3">Años 70</text></g>
<g id="c88"><text x="585" y="540.3">Rechazo a las formas tradicionales.</text></g>
<g id="c89"><text x="530" y="550.1"><tspan class="r">C. </tspan><tspan class="b">Poesía desarraigada</tspan></text></g>
<g id="c90"><text x="593" y="550.1">Visión pesimista, lenguaje agrio y directo.</text></g>
</svg>
